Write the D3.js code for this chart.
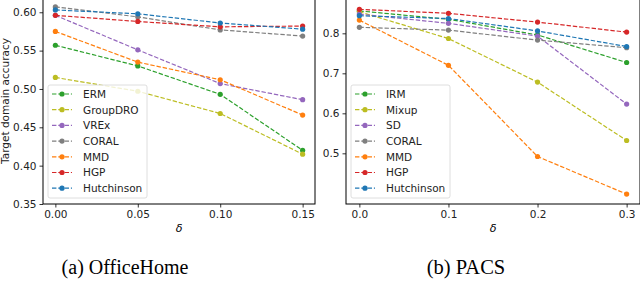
<!DOCTYPE html>
<html>
<head>
<meta charset="utf-8">
<script src="https://cdn.jsdelivr.net/npm/d3@7"></script>
<style>
  body { margin: 0; background: #fff; }
  svg { display: block; }
  text { font-family: "DejaVu Sans", sans-serif; }
</style>
</head>
<body>
<script>
// data
var colors = {
    ERM: "#2ca02c", IRM: "#2ca02c", GroupDRO: "#bcbd22", Mixup: "#bcbd22",
    VREx: "#9467bd", SD: "#9467bd", CORAL: "#7f7f7f", MMD: "#ff7f0e",
    HGP: "#d62728", Hutchinson: "#1f77b4"
};

var officeDelta = [0.00, 0.05, 0.10, 0.15];
var officeNames = ["ERM", "GroupDRO", "VREx", "CORAL", "MMD", "HGP", "Hutchinson"];
var officeERM = [0.557, 0.530, 0.493, 0.420];
var officeGroupDRO = [0.515, 0.497, 0.468, 0.415];
var officeVREx = [0.596, 0.551, 0.507, 0.486];
var officeCORAL = [0.607, 0.594, 0.577, 0.569];
var officeMMD = [0.575, 0.535, 0.512, 0.466];
var officeHGP = [0.596, 0.588, 0.581, 0.582];
var officeHutchinson = [0.603, 0.598, 0.586, 0.578];
var officeYTicks = [0.35, 0.40, 0.45, 0.50, 0.55, 0.60];

var pacsDelta = [0.0, 0.1, 0.2, 0.3];
var pacsNames = ["IRM", "Mixup", "SD", "CORAL", "MMD", "HGP", "Hutchinson"];
var pacsIRM = [0.856, 0.835, 0.796, 0.727];
var pacsMixup = [0.854, 0.787, 0.678, 0.532];
var pacsSD = [0.848, 0.825, 0.793, 0.623];
var pacsCORAL = [0.815, 0.808, 0.783, 0.764];
var pacsMMD = [0.833, 0.720, 0.492, 0.398];
var pacsHGP = [0.860, 0.850, 0.828, 0.803];
var pacsHutchinson = [0.844, 0.837, 0.806, 0.767];
var pacsYTicks = [0.5, 0.6, 0.7, 0.8];

var W = 640, H = 282;
var svg = d3.select("body").append("svg").attr("width", W).attr("height", H);

function panel(opt) {
    var x = d3.scaleLinear().domain(opt.xdom).range([opt.left, opt.right]);
    var y = d3.scaleLinear().domain(opt.ydom).range([opt.bottom, opt.top]);
    var g = svg.append("g");

    // frame
    g.append("rect")
        .attr("x", opt.left).attr("y", opt.top)
        .attr("width", opt.right - opt.left).attr("height", opt.bottom - opt.top)
        .attr("fill", "none").attr("stroke", "#000").attr("stroke-width", 1);

    var xa = g.append("g").attr("transform", "translate(0," + opt.bottom + ")")
        .call(d3.axisBottom(x).tickValues(opt.xs).tickFormat(d3.format(opt.xfmt)).tickSizeOuter(0).tickSize(3.5).tickPadding(3));
    var ya = g.append("g").attr("transform", "translate(" + opt.left + ",0)")
        .call(d3.axisLeft(y).tickValues(opt.yticks).tickFormat(d3.format(opt.yfmt)).tickSizeOuter(0).tickSize(3.5).tickPadding(3));
    [xa, ya].forEach(function (a) {
        a.select(".domain").remove();
        a.selectAll("text").attr("font-size", "10.5px").attr("fill", "#222")
            .style("font-family", "DejaVu Sans, sans-serif");
        a.selectAll("line").attr("stroke", "#000").attr("stroke-width", 0.8);
    });

    g.append("text").attr("x", (opt.left + Math.min(opt.right, W)) / 2 + opt.dx).attr("y", 232)
        .attr("text-anchor", "middle").attr("font-size", "11px").attr("font-style", "italic")
        .text("δ");

    var line = d3.line().x(function (d) { return x(d[0]); }).y(function (d) { return y(d[1]); });

    opt.names.forEach(function (name, i) {
        var pts = opt.xs.map(function (d, j) { return [d, opt.series[i][j]]; });
        g.append("path").datum(pts).attr("d", line)
            .attr("fill", "none").attr("stroke", colors[name])
            .attr("stroke-width", 1.2).attr("stroke-dasharray", "4.4,1.9");
        g.selectAll(null).data(pts).enter().append("circle")
            .attr("cx", function (d) { return x(d[0]); })
            .attr("cy", function (d) { return y(d[1]); })
            .attr("r", 2.6).attr("fill", colors[name]);
    });

    // legend
    var lg = g.append("g");
    lg.append("rect").attr("x", opt.lx).attr("y", 85).attr("width", 99).attr("height", 113)
        .attr("rx", 2).attr("fill", "#fff").attr("fill-opacity", 0.8)
        .attr("stroke", "#d6d6d6").attr("stroke-width", 0.8);
    opt.names.forEach(function (name, i) {
        var yy = 94 + i * 15.7;
        lg.append("line").attr("x1", opt.lx + 4).attr("x2", opt.lx + 24)
            .attr("y1", yy).attr("y2", yy).attr("stroke", colors[name])
            .attr("stroke-width", 1.2).attr("stroke-dasharray", "4.4,1.9");
        lg.append("circle").attr("cx", opt.lx + 14).attr("cy", yy).attr("r", 2.6).attr("fill", colors[name]);
        lg.append("text").attr("x", opt.lx + 35).attr("y", yy + 3.8)
            .attr("font-size", "10.5px").attr("fill", "#222").text(name);
    });
}

panel({
    left: 43, right: 315, top: -1, bottom: 204, dx: 0,
    xdom: [-0.0075, 0.1575], ydom: [0.35, 0.6173],
    xs: officeDelta, xfmt: ".2f", yticks: officeYTicks, yfmt: ".2f",
    names: officeNames,
    series: [officeERM, officeGroupDRO, officeVREx, officeCORAL, officeMMD, officeHGP, officeHutchinson],
    lx: 48
});

panel({
    left: 346, right: 640, top: -1, bottom: 204, dx: 0,
    xdom: [-0.015, 0.315], ydom: [0.3733, 0.8858],
    xs: pacsDelta, xfmt: ".1f", yticks: pacsYTicks, yfmt: ".1f",
    names: pacsNames,
    series: [pacsIRM, pacsMixup, pacsSD, pacsCORAL, pacsMMD, pacsHGP, pacsHutchinson],
    lx: 351
});

svg.append("text").attr("transform", "translate(8.5,101) rotate(-90)")
    .attr("text-anchor", "middle").attr("font-size", "10.5px").attr("fill", "#222")
    .text("Target domain accuracy");

svg.append("text").attr("x", 125).attr("y", 274).attr("text-anchor", "middle")
    .style("font-family", "Liberation Serif, serif").attr("font-size", "20px").text("(a) OfficeHome");
svg.append("text").attr("x", 466).attr("y", 274).attr("text-anchor", "middle")
    .style("font-family", "Liberation Serif, serif").attr("font-size", "20.5px").text("(b) PACS");
</script>
</body>
</html>
